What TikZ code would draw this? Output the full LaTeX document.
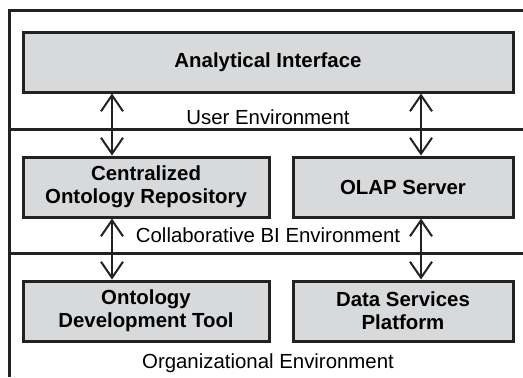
\documentclass[tikz,border=0pt]{standalone}
\usepackage{fontspec}
\setmainfont{Liberation Sans}
\usepackage{tikz}
\usetikzlibrary{arrows.meta,positioning,calc}
\definecolor{BoxGray}{HTML}{D8D9DB}
\definecolor{Edge}{HTML}{222222}
\tikzset{
  box/.style={draw=Edge,line width=1.5pt,fill=BoxGray,align=center,
              minimum height=30pt,inner sep=2pt,
              font=\fontsize{10.2}{11.5}\selectfont\bfseries},
  frame/.style={draw=Edge,line width=1.5pt},
  flow/.style={{Straight Barb[length=8pt,width=11pt]}-{Straight Barb[length=8pt,width=11pt]},
               line width=1pt,draw=Edge},
  envlabel/.style={font=\fontsize{10.2}{12}\selectfont,inner sep=1pt}
}
\begin{document}
\begin{tikzpicture}[x=0.5pt,y=-0.5pt]
  \useasboundingbox (0,0) rectangle (523,377);

  % environment frame and separators
  \draw[frame] (523,10) -- (9,10) -- (9,377);
  \draw[frame] (9,129) -- (523,129);
  \draw[frame] (9,253) -- (523,253);

  % components
  \node[box,minimum width=245pt] (iface) at (268,62) {Analytical Interface};
  \node[box,minimum width=123pt] (repo) at (146,187) {Centralized\\Ontology Repository};
  \node[box,minimum width=110pt] (olap) at (403,187) {OLAP Server};
  \node[box,minimum width=123pt,below=30.5pt of repo] (devtool) {Ontology\\Development Tool};
  \node[box,minimum width=110pt,below=30.5pt of olap] (dsp) {Data Services\\Platform};

  % environment names
  \node[envlabel] (userenv) at (268,117) {User Environment};
  \node[envlabel] (collabenv) at (268,235) {Collaborative BI Environment};
  \node[envlabel] (orgenv) at (268,363) {Organizational Environment};

  % links between layers
  \coordinate (lx) at (112,0);
  \coordinate (rx) at (421,0);
  \draw[flow] (iface.south -| lx) -- (repo.north -| lx);
  \draw[flow] (iface.south -| rx) -- (olap.north -| rx);
  \draw[flow] (repo.south -| lx) -- (devtool.north -| lx);
  \draw[flow] (olap.south -| rx) -- (dsp.north -| rx);
\end{tikzpicture}
\end{document}
